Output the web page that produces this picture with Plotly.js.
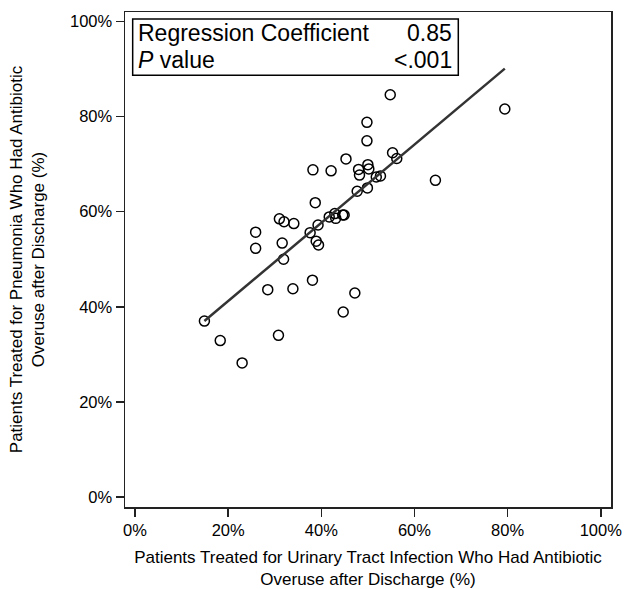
<!DOCTYPE html>
<html>
<head>
<meta charset="utf-8">
<script src="https://cdn.plot.ly/plotly-3.0.1.min.js"></script>
<style>html,body{margin:0;padding:0;background:#fff;}#chart{width:633px;height:589px;}</style>
</head>
<body>
<div id="chart"></div>
<script>
// UTI overuse (%) per hospital
const utiOveruse = [14.9,18.3,23.0,28.5,33.9,38.1,47.2,44.7,30.8,31.9,25.9,25.9,31.6,31.0,32.0,34.1,37.6,38.9,39.4,39.3,38.7,41.7,42.9,43.1,44.6,44.9,38.2,42.1,45.3,47.7,49.9,48.0,48.2,50.0,50.2,51.8,52.7,49.8,49.8,54.8,55.3,56.2,64.5,79.4];
// Pneumonia overuse (%) per hospital
const pneumoniaOveruse = [37.0,32.9,28.2,43.6,43.8,45.6,42.9,38.9,34.0,50.0,55.7,52.3,53.4,58.5,57.9,57.5,55.6,53.8,53.0,57.2,61.9,58.9,59.6,58.6,59.3,59.3,68.8,68.6,71.1,64.3,65.0,68.9,67.7,69.9,69.0,67.3,67.5,78.8,74.9,84.6,72.4,71.2,66.6,81.6];
// Fitted regression line end points
const fitX = [14.9, 79.4];
const fitY = [37.0, 90.1];
const tickVals = [0,20,40,60,80,100];
const tickText = ['0%','20%','40%','60%','80%','100%'];
const statLabels = ['Regression Coefficient','<i>P</i> value'];
const statValues = ['0.85','<.001'];

const FONT = 'Liberation Sans, Arial, sans-serif';

const traces = [
  {x: utiOveruse, y: pneumoniaOveruse, type:'scatter', mode:'markers',
   marker:{symbol:'circle-open', size:10, color:'#000', line:{width:1.5}}, hoverinfo:'skip'},
  {x: fitX, y: fitY, type:'scatter', mode:'lines', line:{color:'#333', width:2.5}, hoverinfo:'skip'}
];

const axisCommon = {
  showgrid:false, zeroline:false, showline:true, mirror:true,
  linecolor:'#222', linewidth:1.5,
  ticks:'outside', ticklen:8, tickwidth:1.5, tickcolor:'#222',
  tickvals: tickVals, ticktext: tickText,
  tickfont:{family:FONT, size:16.5, color:'#000'},
  range:[-2.15, 102.2]
};

const layout = {
  width:633, height:589,
  margin:{l:125, r:22, t:12, b:82},
  paper_bgcolor:'#fff', plot_bgcolor:'#fff',
  showlegend:false,
  font:{family:FONT, color:'#000'},
  xaxis: Object.assign({}, axisCommon, {
    title:{text:'Patients Treated for Urinary Tract Infection Who Had Antibiotic<br>Overuse after Discharge (%)', font:{family:FONT, size:17, color:'#000'}, standoff:20}
  }),
  yaxis: Object.assign({}, axisCommon, {
    range:[-2.1, 102],
    title:{text:'Patients Treated for Pneumonia Who Had Antibiotic<br>Overuse after Discharge (%)', font:{family:FONT, size:17, color:'#000'}, standoff:21}
  }),
  shapes:[
    {type:'rect', xref:'paper', yref:'paper', x0:0.0158, x1:0.6858, y0:0.8721, y1:0.9859,
     line:{color:'#000', width:1.5}, fillcolor:'rgba(0,0,0,0)'}
  ],
  annotations:[
    {xref:'paper', yref:'paper', x:0.022, y:0.9576, xanchor:'left', yanchor:'middle', showarrow:false, text:statLabels[0], font:{family:FONT, size:23, color:'#000'}},
    {xref:'paper', yref:'paper', x:0.022, y:0.903, xanchor:'left', yanchor:'middle', showarrow:false, text:statLabels[1], font:{family:FONT, size:23, color:'#000'}},
    {xref:'paper', yref:'paper', x:0.6773, y:0.9576, xanchor:'right', yanchor:'middle', showarrow:false, text:statValues[0], font:{family:FONT, size:23, color:'#000'}},
    {xref:'paper', yref:'paper', x:0.6773, y:0.903, xanchor:'right', yanchor:'middle', showarrow:false, text:statValues[1], font:{family:FONT, size:23, color:'#000'}}
  ]
};

Plotly.newPlot('chart', traces, layout, {displayModeBar:false, staticPlot:true});
</script>
</body>
</html>
